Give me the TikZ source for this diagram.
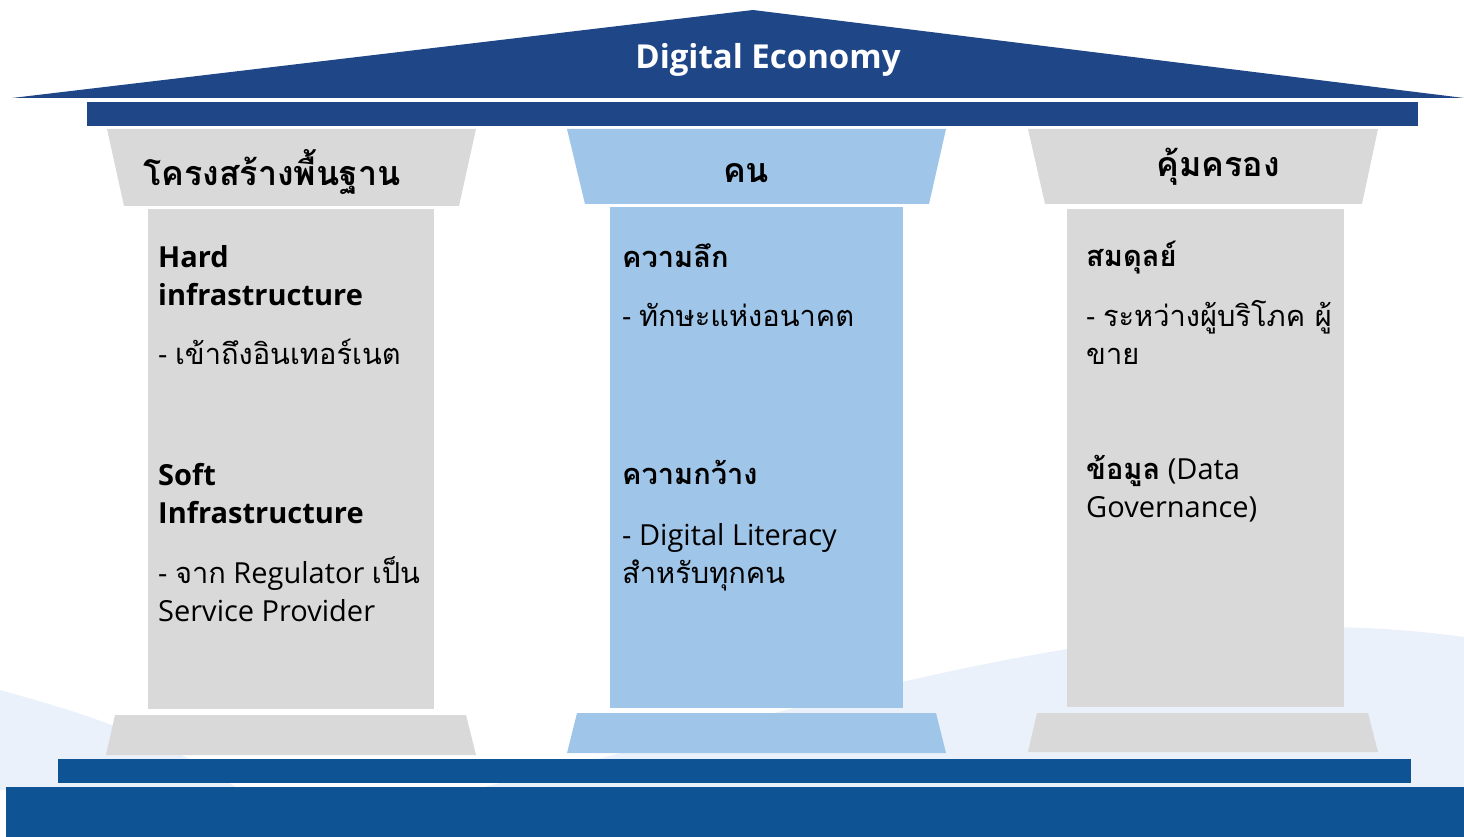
\documentclass[tikz,border=0pt]{standalone}
\usepackage{fontspec}
\setmainfont{Open Sans}
\newfontfamily\thaifont[Script=Thai]{Loma}
\usetikzlibrary{positioning}
\usetikzlibrary{calc}
\usepackage{xcolor}
\definecolor{roofblue}{HTML}{1F4788}
\definecolor{floorblue}{HTML}{0E5394}
\definecolor{stonegray}{HTML}{D9D9D9}
\definecolor{paleblue}{HTML}{9FC5E8}
\definecolor{wavetint}{HTML}{EBF1FB}
\newcommand{\thaitxt}[1]{{\thaifont #1}}

\begin{document}
\begin{tikzpicture}[x=1pt, y=-1pt,
    body/.style={anchor=base west, align=left, inner sep=0pt, font=\fontsize{29}{38}\selectfont},
    head/.style={anchor=center, inner sep=0pt, font=\fontsize{34}{40}\selectfont\bfseries}]
    \path[use as bounding box] (0, 0) rectangle (1464, 837);

    \path[fill=wavetint] (0, 690) .. controls (80, 712) and (170, 740) .. (240, 790) -- (0, 790) -- cycle;
    \path[fill=wavetint] (470, 790) .. controls (780, 720) and (1130, 590) .. (1464, 637) -- (1464, 790) -- cycle;

    \path[fill=roofblue] (12, 98) -- (753, 10) -- (1464, 98) -- cycle;
    \node[text=white, inner sep=0pt, font=\fontsize{33}{40}\selectfont\bfseries] (title) at (768, 60) {Digital Economy};
    \path[fill=roofblue] (87, 102) rectangle (1418, 126);

    \path[fill=stonegray] (107, 129) -- (476, 129) -- (459, 206) -- (124, 206) -- cycle;
    \path[fill=stonegray] (148, 209) rectangle (434, 709);
    \path[fill=stonegray] (115, 715) -- (466, 715) -- (476, 755) -- (106, 755) -- cycle;
    \node[head] (infra) at (272, 172) {\thaitxt{โครงสร้างพื้นฐาน}};

    \path[fill=paleblue] (567, 129) -- (946, 129) -- (929, 204) -- (585, 204) -- cycle;
    \path[fill=paleblue] (610, 207) rectangle (903, 708);
    \path[fill=paleblue] (577, 713) -- (936, 713) -- (946, 753) -- (567, 753) -- cycle;
    \node[head] (people) at (746, 173) {\thaitxt{คน}};

    \path[fill=stonegray] (1028, 129) -- (1378, 129) -- (1362, 204) -- (1045, 204) -- cycle;
    \path[fill=stonegray] (1067, 209) rectangle (1344, 707);
    \path[fill=stonegray] (1037, 713) -- (1368, 713) -- (1378, 752) -- (1028, 752) -- cycle;
    \node[head] (protect) at (1218, 167) {\thaitxt{คุ้มครอง}};

    \path[fill=floorblue] (58, 759) rectangle (1411, 783);
    \path[fill=floorblue] (6, 787) rectangle (1464, 837);

    % multi-line nodes sit on the baseline of their last line
    \node[body] (hardtxt) at (158, 305) {\textbf{Hard}\\\textbf{infrastructure}};
    \node[body] (hardsub) at (158, 364) {- \thaitxt{เข้าถึงอินเทอร์เนต}};
    \node[body] (softtxt) at (158, 523) {\textbf{Soft}\\\textbf{Infrastructure}};
    \node[body] (softsub) at (158, 621) {- \thaitxt{จาก} Regulator \thaitxt{เป็น}\\Service Provider};

    \node[body] (deeptxt) at (622, 267) {\thaitxt{\bfseries ความลึก}};
    \node[body] (deepsub) at (622, 326) {- \thaitxt{ทักษะแห่งอนาคต}};
    \node[body] (widetxt) at (622, 484) {\thaitxt{\bfseries ความกว้าง}};
    \node[body] (widesub) at (622, 583) {- Digital Literacy\\\thaitxt{สำหรับทุกคน}};

    \node[body] (balancetxt) at (1086, 266) {\thaitxt{\bfseries สมดุลย์}};
    \node[body] (balancesub) at (1086, 364) {- \thaitxt{ระหว่างผู้บริโภค ผู้}\\\thaitxt{ขาย}};
    \node[body] (datatxt) at (1086, 517) {\thaitxt{\bfseries ข้อมูล} (Data\\Governance)};
\end{tikzpicture}
\end{document}
